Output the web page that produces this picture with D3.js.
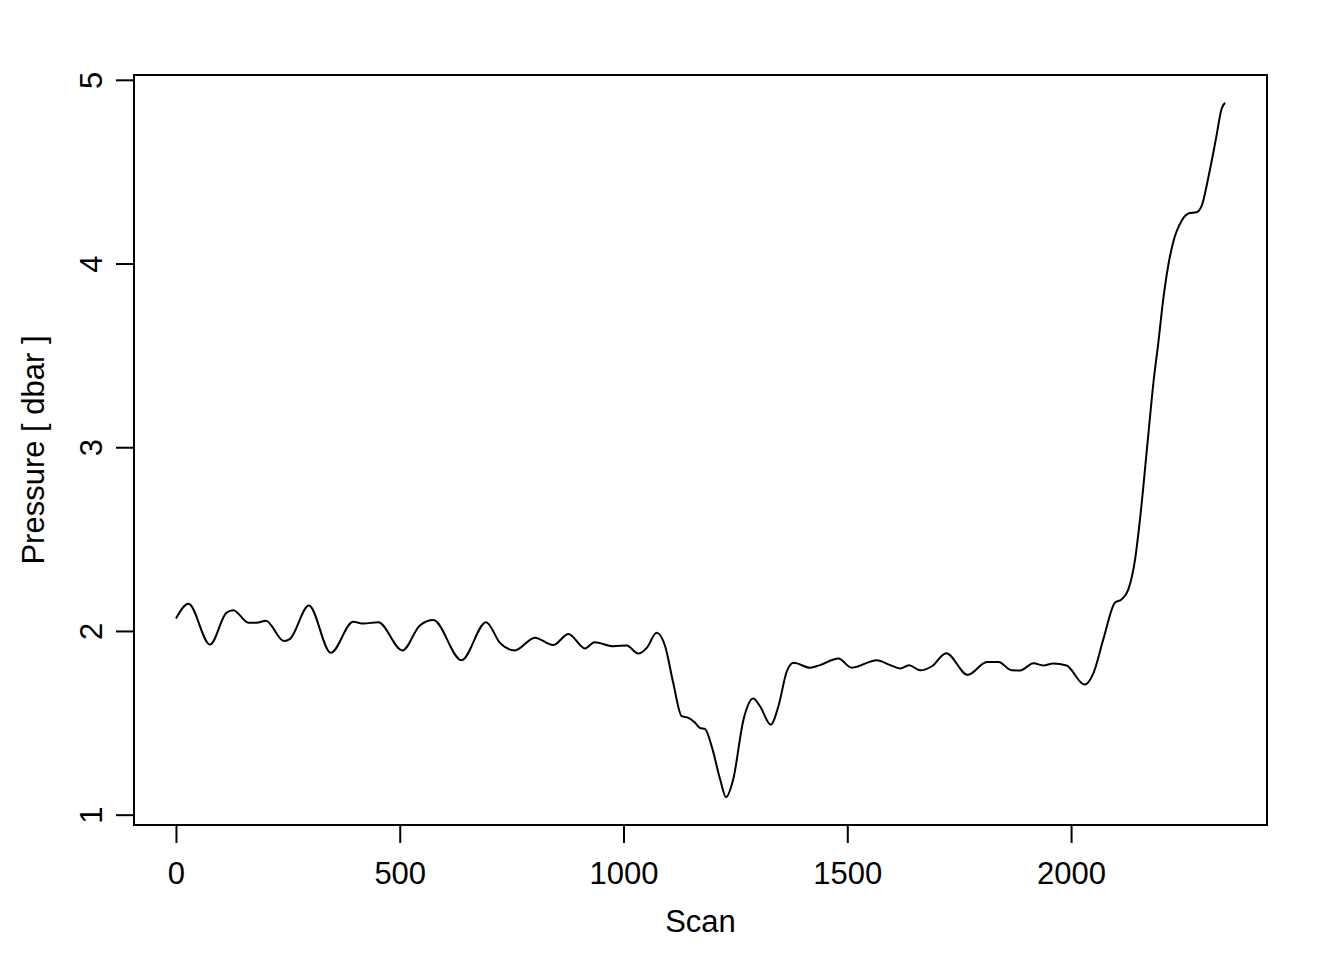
<!DOCTYPE html>
<html>
<head>
<meta charset="utf-8">
<script src="https://cdn.jsdelivr.net/npm/d3@7"></script>
<style>
  html, body { margin: 0; padding: 0; background: #fff; }
  svg text { font-family: 'Liberation Sans', Arial, Helvetica, sans-serif; fill: #000; }
</style>
</head>
<body>
<div id="chart"></div>
<script>
const scan = [
  0, 28, 76, 113, 128, 162, 180, 201, 241, 255,
  297, 346, 396, 419, 452, 506, 545, 575, 638, 693,
  724, 757, 802, 843, 877, 914, 935, 977, 1007, 1033,
  1052, 1074, 1093, 1111, 1130, 1145, 1160, 1171, 1182, 1197,
  1216, 1229, 1245, 1268, 1290, 1305, 1329, 1346, 1365, 1380,
  1417, 1439, 1480, 1510, 1566, 1596, 1618, 1638, 1663, 1689,
  1721, 1769, 1812, 1838, 1867, 1886, 1916, 1938, 1960, 1990,
  2030, 2050, 2072, 2098, 2113, 2128, 2143, 2154, 2173, 2184,
  2195, 2206, 2217, 2228, 2247, 2265, 2280, 2292, 2306, 2325,
  2336, 2344,
]

const pressure = [
  2.068, 2.148, 1.926, 2.1, 2.113, 2.045, 2.045, 2.056, 1.945, 1.957,
  2.139, 1.881, 2.05, 2.04, 2.048, 1.894, 2.03, 2.059, 1.841, 2.048,
  1.935, 1.894, 1.963, 1.923, 1.984, 1.905, 1.939, 1.917, 1.921, 1.877,
  1.908, 1.99, 1.917, 1.718, 1.536, 1.527, 1.5, 1.472, 1.467, 1.372,
  1.191, 1.095, 1.191, 1.517, 1.632, 1.59, 1.49, 1.59, 1.781, 1.827,
  1.8, 1.814, 1.85, 1.8, 1.841, 1.814, 1.796, 1.814, 1.786, 1.808,
  1.879, 1.761, 1.831, 1.831, 1.786, 1.785, 1.824, 1.812, 1.823, 1.812,
  1.708, 1.771, 1.954, 2.154, 2.172, 2.226, 2.39, 2.608, 3.08, 3.352,
  3.57, 3.806, 3.988, 4.115, 4.233, 4.275, 4.279, 4.315, 4.46, 4.696,
  4.84, 4.875,
]

const xTicks = [0, 500, 1000, 1500, 2000]
const yTicks = [1, 2, 3, 4, 5]
const xLabel = 'Scan'
const yLabel = 'Pressure [ dbar ]'

const width = 1344
const height = 960
const box = { left: 134, right: 1267, top: 75, bottom: 825 }
const fontSize = 31
const tickLen = 18

// R style range: data extent padded by 4% each side
function padded(ext) {
  const d = (ext[1] - ext[0]) * 0.04
  return [ext[0] - d, ext[1] + d]
}

const x = d3.scaleLinear().domain(padded(d3.extent(scan))).range([box.left, box.right])
const y = d3.scaleLinear().domain(padded(d3.extent(pressure))).range([box.bottom, box.top])

const svg = d3
  .select('#chart')
  .append('svg')
  .attr('width', width)
  .attr('height', height)

const data = scan.map((s, i) => ({ s, p: pressure[i] }))

const line = d3
  .line()
  .x((d) => x(d.s))
  .y((d) => y(d.p))
  .curve(d3.curveMonotoneX)

svg
  .append('path')
  .datum(data)
  .attr('d', line)
  .attr('fill', 'none')
  .attr('stroke', '#000')
  .attr('stroke-width', 2)
  .attr('stroke-linejoin', 'round')

svg
  .append('rect')
  .attr('x', box.left)
  .attr('y', box.top)
  .attr('width', box.right - box.left)
  .attr('height', box.bottom - box.top)
  .attr('fill', 'none')
  .attr('stroke', '#000')
  .attr('stroke-width', 2)

const xAxis = svg
  .append('g')
  .attr('transform', `translate(0,${box.bottom})`)
  .call(d3.axisBottom(x).tickValues(xTicks).tickSize(tickLen).tickSizeOuter(0).tickFormat(d3.format('d')))

xAxis.select('.domain').remove()
xAxis.selectAll('.tick line').attr('stroke', '#000').attr('stroke-width', 2)
xAxis
  .selectAll('.tick text')
  .attr('y', 59)
  .attr('dy', null)
  .attr('font-size', fontSize)
  .attr('font-family', null)

const yAxis = svg
  .append('g')
  .attr('transform', `translate(${box.left},0)`)
  .call(d3.axisLeft(y).tickValues(yTicks).tickSize(tickLen).tickSizeOuter(0).tickFormat(d3.format('d')))

yAxis.select('.domain').remove()
yAxis.selectAll('.tick line').attr('stroke', '#000').attr('stroke-width', 2)
yAxis
  .selectAll('.tick text')
  .attr('x', null)
  .attr('dy', null)
  .attr('text-anchor', 'middle')
  .attr('transform', 'translate(-32,0) rotate(-90)')
  .attr('font-size', fontSize)
  .attr('font-family', null)

svg
  .append('text')
  .attr('x', (box.left + box.right) / 2)
  .attr('y', 932)
  .attr('text-anchor', 'middle')
  .attr('font-size', fontSize)
  .text(xLabel)

svg
  .append('text')
  .attr('transform', `translate(44,${(box.top + box.bottom) / 2}) rotate(-90)`)
  .attr('text-anchor', 'middle')
  .attr('font-size', fontSize)
  .text(yLabel)
</script>
</body>
</html>
